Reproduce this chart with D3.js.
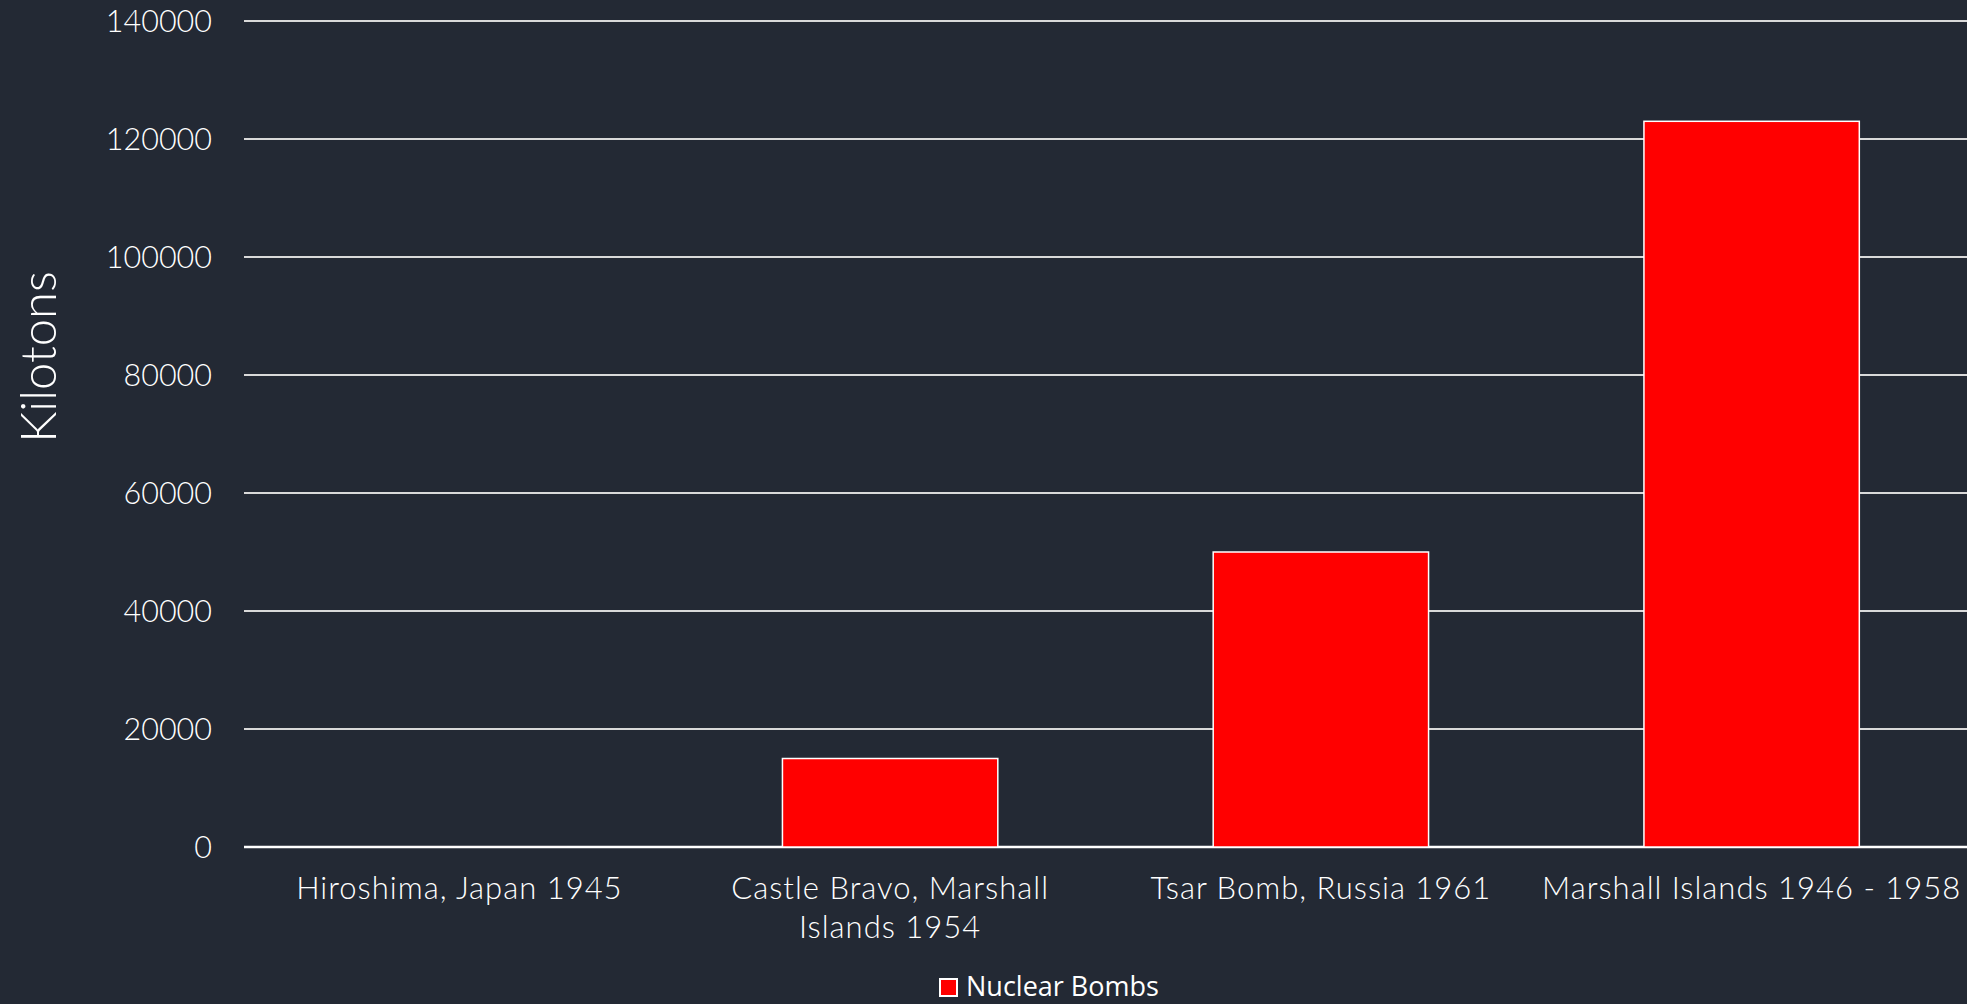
<!DOCTYPE html>
<html>
<head>
  <style type="text/css">
    body { margin: 0; background: #232934; }
    .axis text { font-family: "Century Gothic", Lato, sans-serif; font-weight: 300; fill: #fff; }
    .grid line { stroke: #d9d9d9; stroke-width: 1.5; shape-rendering: crispEdges; }
    .bar { fill: #ff0000; stroke: #fff; stroke-width: 1.5; }
  </style>
</head>
<body>
  <div class="svg_container"></div>
  <script src="https://cdnjs.cloudflare.com/ajax/libs/d3/7.8.5/d3.min.js"></script>
  <script type="text/javascript">
    // chart data
    var categories = ["Hiroshima, Japan 1945", "Castle Bravo, Marshall Islands 1954", "Tsar Bomb, Russia 1961", "Marshall Islands 1946 - 1958"];
    // label lines as wrapped in the original
    var categoryLines = [["Hiroshima, Japan 1945"], ["Castle Bravo, Marshall", "Islands 1954"], ["Tsar Bomb, Russia 1961"], ["Marshall Islands 1946 - 1958"]];
    var kilotons = [15, 15000, 50000, 123000];
    var yTicks = [0, 20000, 40000, 60000, 80000, 100000, 120000, 140000];
    var seriesName = "Nuclear Bombs";

    var W = 1967, H = 1004;
    var margin = { top: 21, right: 0, bottom: 157, left: 244 },
      width = W - margin.left - margin.right,
      height = H - margin.top - margin.bottom;

    var x = d3.scaleBand()
      .domain(categories)
      .range([0, width])
      .paddingInner(0.5)
      .paddingOuter(0.25);
    var y = d3.scaleLinear()
      .domain([0, 140000])
      .range([height, 0]);

    var root = d3.select(".svg_container").append("svg")
      .attr("width", W)
      .attr("height", H)
      .style("display", "block");
    root.append("rect").attr("width", W).attr("height", H).attr("fill", "#232934");

    var svg = root.append("g")
      .attr("transform", "translate(" + margin.left + "," + margin.top + ")");

    // gridlines
    svg.append("g").attr("class", "grid")
      .selectAll("line")
      .data(yTicks.filter(function(d) { return d > 0; }))
      .enter().append("line")
      .attr("x1", 0).attr("x2", width)
      .attr("y1", function(d) { return y(d); })
      .attr("y2", function(d) { return y(d); });

    // y axis labels
    var yAxis = svg.append("g").attr("class", "axis")
      .attr("transform", "translate(-32,0)")
      .call(d3.axisLeft(y).tickValues(yTicks).tickSize(0).tickPadding(0).tickFormat(d3.format("d")));
    yAxis.select(".domain").remove();
    yAxis.selectAll("text").style("font-size", "30.5px").attr("dy", "0.35em");

    // baseline
    svg.append("line")
      .attr("x1", 0).attr("x2", width)
      .attr("y1", height).attr("y2", height)
      .attr("stroke", "#fff").attr("stroke-width", 2.5);

    // bars
    svg.selectAll(".bar")
      .data(kilotons)
      .enter().append("rect")
      .attr("class", "bar")
      .attr("x", function(d, i) { return x(categories[i]); })
      .attr("width", x.bandwidth())
      .attr("y", function(d) { return y(d); })
      .attr("height", function(d) { return height - y(d); });

    // x axis labels
    var xAxis = svg.append("g").attr("class", "axis")
      .attr("transform", "translate(0," + height + ")")
      .call(d3.axisBottom(x).tickSize(0).tickPadding(0));
    xAxis.select(".domain").remove();
    xAxis.selectAll("text")
      .style("font-size", "31px")
      .style("letter-spacing", "1px")
      .attr("y", 0).attr("dy", 0)
      .each(function(d, i) {
        var t = d3.select(this).text(null);
        categoryLines[i].forEach(function(l, j) {
          t.append("tspan").attr("x", 0).attr("y", 52 + j * 39).text(l);
        });
      });

    // y axis title
    root.append("text")
      .attr("transform", "translate(56,357) rotate(-90)")
      .attr("text-anchor", "middle")
      .style("font-family", "\"Century Gothic\", Lato, sans-serif")
      .style("font-weight", 300)
      .style("font-size", "49px")
      .attr("fill", "#fff")
      .text("Kilotons");

    // legend
    var legend = root.append("g").attr("transform", "translate(940,979)");
    legend.append("rect")
      .attr("width", 17).attr("height", 17)
      .attr("fill", "#ff0000").attr("stroke", "#fff").attr("stroke-width", 2);
    legend.append("text")
      .attr("x", 26).attr("y", 17)
      .style("font-family", "\"Open Sans\", sans-serif")
      .style("font-size", "27px")
      .attr("fill", "#fff")
      .text(seriesName);
  </script>
</body>
</html>
